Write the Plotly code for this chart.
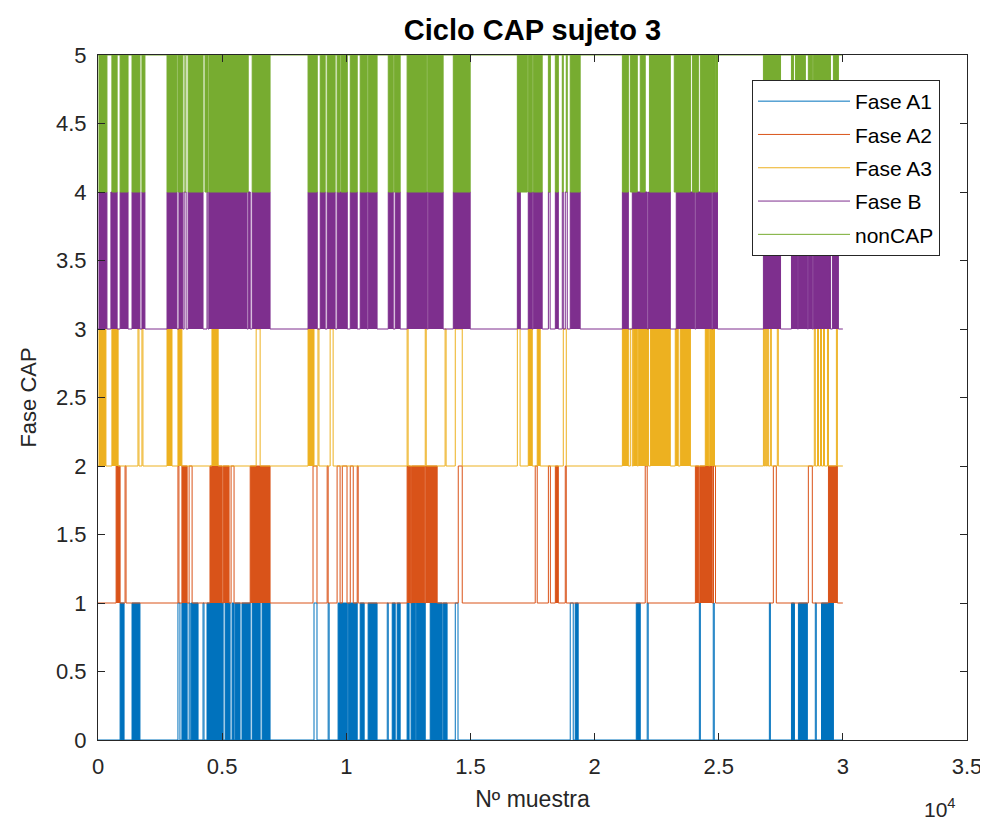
import plotly.graph_objects as go

# ---------------- data (sample index ranges) ----------------
series_names = ["Fase A1", "Fase A2", "Fase A3", "Fase B", "nonCAP"]
series_colors = ["#0072BD", "#D95319", "#EDB120", "#7E2F8E", "#77AC30"]
series_base = [0, 1, 2, 3, 4]
# default state: False = rests at low level, True = rests at high level
series_rest_high = [False, False, False, False, True]
n_samples = 30000

# regions of rapid toggling (appear solid)
a1_dense = [[890, 1050], [1370, 1690], [3380, 3590], [3750, 4030], [4390, 5040], [5120, 5320],
            [5400, 5480], [5520, 5720], [5800, 6130], [6210, 6530], [6610, 6930], [9670, 10040],
            [10080, 10440], [10560, 10720], [10880, 11240], [11850, 11970], [12050, 12170],
            [12450, 12530], [12610, 12780], [12820, 13180], [13380, 13860], [13900, 14060],
            [19220, 19340], [21680, 21840], [27930, 28050], [28210, 28570], [29140, 29620]]
a1_pulses = [[3220, 3300], [3670, 3710], [4230, 4270], [8700, 8820], [9270, 9310], [11650, 11690],
             [14390, 14500], [19020, 19140], [22120, 22160], [24220, 24260], [24780, 24820],
             [27040, 27080], [28890, 28930]]

a2_dense = [[730, 890], [3380, 3590], [4510, 5000], [5040, 5280], [6130, 6930], [12450, 12590],
            [12630, 13160], [13200, 13660], [18420, 18540], [24060, 24200], [24240, 24740],
            [29420, 29780]]
a2_pulses = [[1090, 1130], [3220, 3260], [3670, 3790], [5360, 5480], [8660, 8820], [9230, 9270],
             [9630, 9750], [9840, 10030], [10160, 10280], [10440, 10480], [14510, 14670],
             [17610, 17690], [18140, 18220], [18820, 18860], [22040, 22120], [24790, 24870],
             [27200, 27320], [28610, 28770]]

a3_dense = [[40, 320], [560, 810], [2780, 2980], [3220, 3380], [4590, 4840], [8460, 8700],
            [17330, 17490], [17690, 17810], [21120, 21360], [21560, 21720], [21760, 22170],
            [22250, 23050], [23250, 23370], [23450, 23860], [24460, 24600], [24640, 24830]]
a3_pulses = [[1610, 1650], [1770, 1810], [6370, 6530], [8860, 8900], [9350, 9470], [12450, 12490],
             [13180, 13220], [13980, 14020], [14390, 14670], [16890, 17000], [18740, 18860],
             [21440, 21520], [26800, 26840], [26880, 26920], [26960, 27000], [27080, 27120],
             [27360, 27400], [28850, 28890], [28980, 29020], [29100, 29140], [29220, 29260],
             [29380, 29420], [29740, 29780]]

b_dense = [[40, 360], [520, 770], [890, 1210], [1370, 1690], [1770, 1890], [2780, 3180],
           [3260, 3420], [3630, 4230], [4470, 6000], [6050, 6130], [6210, 6930], [8460, 8830],
           [8950, 9150], [9230, 9550], [9630, 10040], [10160, 10440], [10560, 10840],
           [10880, 11240], [11690, 11890], [11970, 12170], [12450, 13260], [13300, 13900],
           [14310, 14990], [16890, 17010], [17330, 17490], [17530, 17890], [18420, 18540],
           [19020, 19420], [21120, 21360], [21520, 22120], [22170, 23050], [23290, 24040],
           [24080, 24720], [24760, 24950], [26800, 27490], [27930, 28170], [28210, 28570],
           [28610, 28770], [28810, 29500], [29580, 29820]]
b_pulses = [[3470, 3550], [4390, 4430], [18140, 18210], [18700, 18740], [18820, 18900]]

noncap_dense = [[40, 360], [560, 770], [890, 1210], [1370, 1690], [1770, 1890], [2780, 3180],
                [3220, 3420], [3630, 4230], [4310, 4430], [4470, 6050], [6210, 6930],
                [8460, 8830], [8950, 9150], [9230, 9550], [9630, 9750], [9790, 10040],
                [10160, 10440], [10560, 10840], [10880, 11240], [11690, 11890], [11930, 12170],
                [12450, 13240], [13280, 13900], [14310, 14990], [16890, 17290], [17330, 17490],
                [17530, 17890], [18140, 18220], [18420, 18540], [18700, 18740], [18860, 18900],
                [19020, 19420], [21120, 21360], [21440, 21720], [21840, 22040], [22210, 23050],
                [23210, 23860], [23940, 24180], [24260, 24830], [24860, 24950], [26800, 27490],
                [27930, 28010], [28090, 28490], [28610, 28770], [28810, 29500], [29620, 29820]]
noncap_pulses = [[3500, 3540]]

series_dense = [a1_dense, a2_dense, a3_dense, b_dense, noncap_dense]
series_pulses = [a1_pulses, a2_pulses, a3_pulses, b_pulses, noncap_pulses]

x_tickvals = [0, 5000, 10000, 15000, 20000, 25000, 30000, 35000]
x_ticktext = ["0", "0.5", "1", "1.5", "2", "2.5", "3", "3.5"]
y_tickvals = [0, 0.5, 1, 1.5, 2, 2.5, 3, 3.5, 4, 4.5, 5]
y_ticktext = ["0", "0.5", "1", "1.5", "2", "2.5", "3", "3.5", "4", "4.5", "5"]

# ---------------- figure ----------------
fig = go.Figure()
for name, color, base, rest_high, dense, pulses in zip(series_names, series_colors, series_base,
                                                      series_rest_high, series_dense, series_pulses):
    lo, hi = base, base + 1
    rest = hi if rest_high else lo
    act = lo if rest_high else hi
    events = sorted(dense + pulses)
    xs, ys = [0], [rest]
    for s, e in events:
        xs += [s, s, e, e]
        ys += [rest, act, act, rest]
    xs.append(n_samples)
    ys.append(rest)
    fx, fy = [], []
    for s, e in dense:
        fx += [s, e, e, s, s, None]
        fy += [lo, lo, hi, hi, lo, None]
    fig.add_trace(go.Scatter(x=fx, y=fy, mode="lines", fill="toself", fillcolor=color,
                             line=dict(width=0, color=color), showlegend=False, hoverinfo="skip"))
    fig.add_trace(go.Scatter(x=xs, y=ys, mode="lines", name=name, legendgroup=name,
                             line=dict(color=color, width=1)))

font_family = "Liberation Sans, Arial, sans-serif"
axis_color = "#262626"
W, H = 988, 825
fig.update_layout(
    width=W, height=H,
    margin=dict(l=90, r=29, t=47, b=93, autoexpand=False),
    paper_bgcolor="white", plot_bgcolor="white",
    font=dict(family=font_family, size=22, color=axis_color),
    title=dict(text="<b>Ciclo CAP sujeto 3</b>", x=0.5, xref="paper", xanchor="center",
               y=1 - 22 / H, yref="container", yanchor="middle",
               font=dict(size=29, color="#000000")),
    legend=dict(x=(940 - 98) / 869, xanchor="right", y=(740 - 80) / 685, yanchor="top",
                bgcolor="white", bordercolor=axis_color, borderwidth=1,
                font=dict(size=21, color="#000000"), itemwidth=92,
                tracegroupgap=3),
    showlegend=True,
)
fig.update_xaxes(range=[0, 35000], tickvals=x_tickvals, ticktext=x_ticktext, automargin=False,
                 showgrid=False, zeroline=False, showline=True, mirror="ticks",
                 linecolor=axis_color, linewidth=1, ticks="inside", ticklen=7,
                 tickcolor=axis_color, ticklabelstandoff=7,
                 title=dict(text="Nº muestra", standoff=12, font=dict(size=23)))
fig.update_yaxes(range=[0, 5], tickvals=y_tickvals, ticktext=y_ticktext, automargin=False,
                 showgrid=False, zeroline=False, showline=True, mirror="ticks",
                 linecolor=axis_color, linewidth=1, ticks="inside", ticklen=7,
                 tickcolor=axis_color, ticklabelstandoff=6,
                 title=dict(text="Fase CAP", standoff=13, font=dict(size=22)))
fig.add_annotation(text="10<sup>4</sup>", xref="paper", yref="paper", x=(940 - 98) / 869,
                   y=-(808 - 740) / 685, xanchor="center", yanchor="middle", showarrow=False,
                   font=dict(size=21, color=axis_color))

fig.write_html("out.html")
